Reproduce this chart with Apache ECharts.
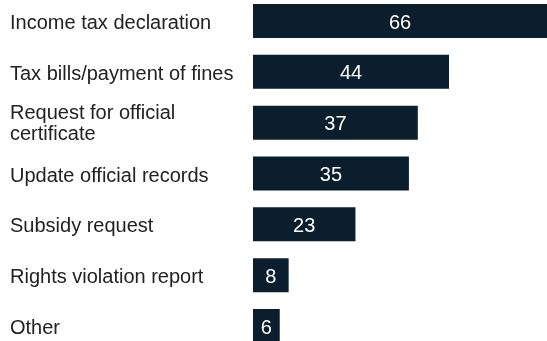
<!DOCTYPE html>
<html>
<head>
<meta charset="utf-8">
<script src="https://cdn.jsdelivr.net/npm/echarts@6/dist/echarts.min.js"></script>
<style>
  html, body { margin: 0; padding: 0; background: #ffffff; }
  #chart { width: 547px; height: 341px; }
</style>
</head>
<body>
<div id="chart"></div>
<script>
// Reasons for contacting the administration (share of respondents)
const categories = [
  'Income tax declaration',
  'Tax bills/payment of fines',
  'Request for official\ncertificate',
  'Update official records',
  'Subsidy request',
  'Rights violation report',
  'Other'
];
const values = [66, 44, 37, 35, 23, 8, 6];

const labelFont = 'Liberation Sans, Arial, sans-serif';

// First line carries a little top padding so the label block sits slightly low
function categoryLabel(text) {
  const lines = text.split('\n');
  return lines.map((l, i) => (i === 0 ? '{first|' : '{rest|') + l + '}').join('\n');
}

const chart = echarts.init(document.getElementById('chart'), null, { renderer: 'canvas' });

chart.setOption({
  animation: false,
  backgroundColor: '#ffffff',
  // Category centres sit on the grid edges; the last bar runs off the bottom
  grid: { left: 253, right: 0, top: 21, bottom: 15, containLabel: false },
  xAxis: {
    type: 'value',
    min: 0,
    max: 66,
    show: false
  },
  yAxis: {
    type: 'category',
    data: categories,
    inverse: true,
    boundaryGap: false,
    axisLine: { show: false },
    axisTick: { show: false },
    splitLine: { show: false },
    axisLabel: {
      align: 'left',
      margin: 243,
      formatter: categoryLabel,
      rich: {
        first: {
          color: '#222222', fontFamily: labelFont, fontSize: 20, lineHeight: 23,
          padding: [5, 0, 0, 0]
        },
        rest: {
          color: '#222222', fontFamily: labelFont, fontSize: 20, lineHeight: 23
        }
      }
    }
  },
  series: [{
    type: 'bar',
    data: values,
    barWidth: 34,
    clip: false,
    itemStyle: { color: '#0a1e2e' },
    label: {
      show: true,
      position: 'inside',
      offset: [0, 2],
      color: '#ffffff',
      fontFamily: labelFont,
      fontSize: 20
    }
  }]
});
</script>
</body>
</html>
